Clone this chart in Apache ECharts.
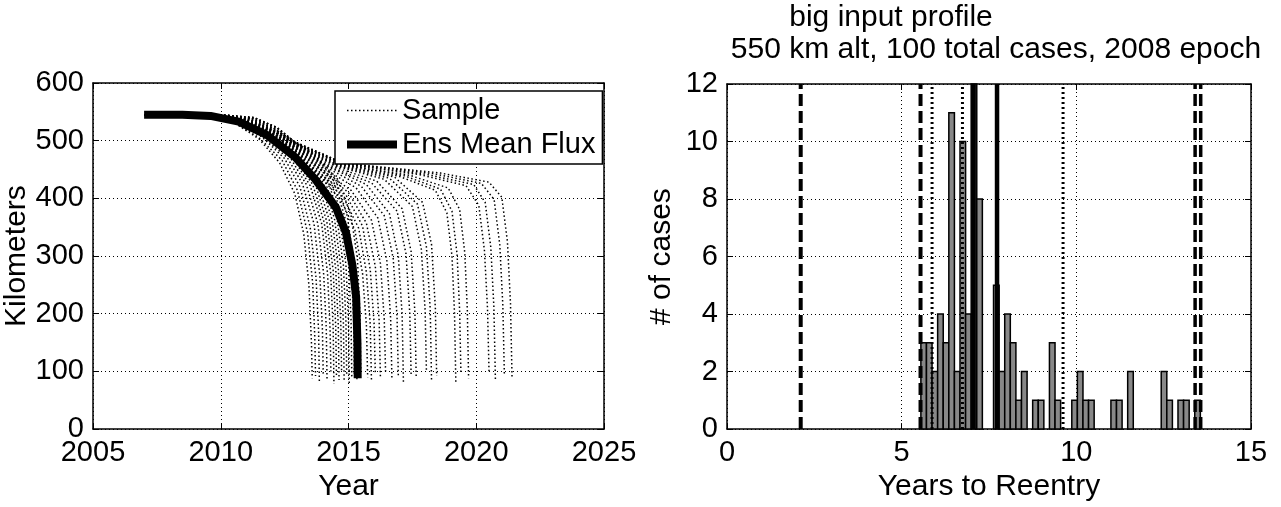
<!DOCTYPE html>
<html>
<head>
<meta charset="utf-8">
<script src="https://cdn.jsdelivr.net/npm/echarts@6/dist/echarts.min.js"></script>
<style>
html,body{margin:0;padding:0;background:#fff;}
#chart{width:1281px;height:507px;}
</style>
</head>
<body>
<div id="chart"></div>
<script>
// ---------- Left panel data ----------
const leftXTicks = [2005, 2010, 2015, 2020, 2025];
const leftYTicks = [0, 100, 200, 300, 400, 500, 600];
const meanFlux = [[2007,545],[2008.5,545],[2009.6,543],[2010.7,533],[2011.8,510],[2012.9,472],[2013.7,433],[2014.5,385],[2014.9,341],[2015.15,285],[2015.3,229],[2015.35,150],[2015.36,88]];
const sampleTracks = [
 [[2007,545],[2009.5,542],[2010.6,529],[2011.5,503],[2012.3,462],[2012.9,408],[2013.25,338],[2013.45,250],[2013.55,150],[2013.58,88]],
 [[2007,545],[2009.5,542],[2010.6,530],[2011.5,505],[2012.4,466],[2013.0,414],[2013.4,340],[2013.6,252],[2013.68,160],[2013.71,92]],
 [[2007,545],[2009.5,542],[2010.6,531],[2011.6,507],[2012.5,469],[2013.1,420],[2013.5,350],[2013.73,262],[2013.83,170],[2013.86,80]],
 [[2007,545],[2009.5,543],[2010.7,531],[2011.6,508],[2012.6,471],[2013.2,425],[2013.65,356],[2013.88,266],[2013.98,172],[2014.01,95]],
 [[2007,545],[2009.5,543],[2010.7,532],[2011.7,509],[2012.7,472],[2013.35,424],[2013.8,356],[2014.03,268],[2014.13,176],[2014.16,85]],
 [[2007,545],[2009.5,543],[2010.7,532],[2011.7,510],[2012.8,472],[2013.5,422],[2013.95,356],[2014.18,270],[2014.28,172],[2014.31,100]],
 [[2007,545],[2009.5,543],[2010.7,533],[2011.8,511],[2012.8,474],[2013.6,424],[2014.05,358],[2014.3,272],[2014.4,175],[2014.43,78]],
 [[2007,545],[2009.6,543],[2010.7,533],[2011.8,511],[2012.9,474],[2013.7,425],[2014.15,360],[2014.4,275],[2014.5,178],[2014.53,90]],
 [[2007,545],[2009.6,543],[2010.8,533],[2011.9,511],[2013.0,474],[2013.8,426],[2014.25,362],[2014.5,278],[2014.6,180],[2014.63,85]],
 [[2007,545],[2009.6,543],[2010.8,534],[2011.9,512],[2013.0,476],[2013.9,428],[2014.35,364],[2014.6,280],[2014.7,182],[2014.73,98]],
 [[2007,545],[2009.6,543],[2010.8,534],[2012.0,512],[2013.1,476],[2014.0,428],[2014.45,365],[2014.7,282],[2014.8,185],[2014.83,82]],
 [[2007,545],[2009.6,544],[2010.8,534],[2012.0,513],[2013.1,477],[2014.1,428],[2014.55,365],[2014.8,284],[2014.9,186],[2014.93,92]],
 [[2007,545],[2009.6,544],[2010.9,534],[2012.1,513],[2013.2,478],[2014.2,430],[2014.65,366],[2014.9,285],[2015.0,188],[2015.03,76]],
 [[2007,545],[2009.7,544],[2010.9,535],[2012.1,514],[2013.3,478],[2014.3,431],[2014.75,368],[2015.0,288],[2015.1,190],[2015.13,88]],
 [[2007,545],[2009.7,544],[2010.9,535],[2012.2,514],[2013.4,478],[2014.4,432],[2014.85,369],[2015.1,290],[2015.2,192],[2015.23,95]],
 [[2007,545],[2009.7,544],[2011.0,535],[2012.2,515],[2013.5,479],[2014.5,433],[2014.95,370],[2015.2,292],[2015.3,194],[2015.33,84]],
 [[2007,545],[2009.7,544],[2011.0,536],[2012.3,515],[2013.6,478],[2014.6,432],[2015.1,370],[2015.35,295],[2015.45,196],[2015.48,100]],
 [[2007,545],[2009.7,544],[2010.9,535],[2011.9,514],[2012.9,478],[2013.9,438],[2014.7,398],[2015.25,345],[2015.55,270],[2015.7,180],[2015.75,90]],
 [[2007,545],[2009.7,544],[2010.9,535],[2011.9,514],[2012.9,480],[2013.9,440],[2014.8,402],[2015.4,348],[2015.7,272],[2015.85,182],[2015.9,82]],
 [[2007,545],[2009.7,544],[2010.9,535],[2011.9,515],[2012.9,482],[2013.9,443],[2014.9,406],[2015.55,352],[2015.85,277],[2016.0,185],[2016.05,96]],
 [[2007,545],[2009.7,544],[2010.9,536],[2011.9,515],[2012.9,484],[2014.0,446],[2015.0,410],[2015.7,357],[2016.05,282],[2016.2,188],[2016.25,88]],
 [[2007,545],[2009.7,544],[2010.9,536],[2011.9,516],[2012.9,486],[2014.0,448],[2015.1,414],[2015.9,362],[2016.25,287],[2016.4,190],[2016.45,100]],
 [[2007,545],[2009.8,544],[2011.0,536],[2011.9,516],[2012.9,487],[2014.1,450],[2015.3,418],[2016.15,366],[2016.5,292],[2016.65,192],[2016.7,85]],
 [[2007,545],[2009.8,544],[2011.0,536],[2011.9,517],[2012.9,488],[2014.2,452],[2015.5,421],[2016.4,370],[2016.75,296],[2016.9,195],[2016.95,92]],
 [[2007,545],[2009.8,544],[2011.0,537],[2011.9,517],[2012.9,489],[2014.3,453],[2015.7,424],[2016.6,374],[2016.95,300],[2017.1,198],[2017.15,80]],
 [[2007,545],[2009.8,544],[2011.0,537],[2012.0,518],[2012.9,490],[2014.3,454],[2015.9,427],[2016.9,378],[2017.25,304],[2017.4,200],[2017.45,95]],
 [[2007,545],[2009.8,544],[2011.1,537],[2012.0,518],[2012.9,491],[2014.4,455],[2016.1,430],[2017.1,382],[2017.45,308],[2017.6,202],[2017.65,88]],
 [[2007,545],[2009.8,544],[2011.1,537],[2012.0,519],[2012.9,492],[2014.5,456],[2016.4,433],[2017.5,386],[2017.85,312],[2018.0,205],[2018.05,100]],
 [[2007,545],[2009.9,544],[2011.1,538],[2012.0,519],[2012.9,493],[2014.5,457],[2016.6,435],[2017.7,390],[2018.05,316],[2018.2,207],[2018.25,84]],
 [[2007,545],[2009.9,544],[2011.1,538],[2012.1,520],[2012.9,494],[2014.6,457],[2016.8,437],[2017.9,393],[2018.25,320],[2018.4,210],[2018.45,92]],
 [[2007,545],[2009.9,544],[2011.2,538],[2012.1,520],[2012.9,495],[2014.6,458],[2017.0,438],[2018.4,414],[2018.85,375],[2019.05,300],[2019.15,200],[2019.2,82]],
 [[2007,545],[2009.9,544],[2011.2,539],[2012.1,521],[2012.9,496],[2014.7,459],[2017.2,439],[2018.6,416],[2019.05,378],[2019.25,303],[2019.35,205],[2019.4,96]],
 [[2007,545],[2009.9,545],[2011.2,539],[2012.1,521],[2012.9,496],[2014.7,459],[2017.4,440],[2018.9,418],[2019.35,381],[2019.55,306],[2019.65,208],[2019.7,88]],
 [[2007,545],[2010.0,545],[2011.3,539],[2012.2,522],[2012.9,497],[2014.8,460],[2017.8,441],[2019.6,422],[2020.1,388],[2020.32,310],[2020.44,210],[2020.5,100]],
 [[2007,545],[2010.0,545],[2011.3,540],[2012.2,522],[2012.9,497],[2014.8,460],[2018.0,442],[2019.9,424],[2020.35,393],[2020.57,315],[2020.69,212],[2020.75,85]],
 [[2007,545],[2010.0,545],[2011.3,540],[2012.2,523],[2012.9,498],[2014.8,461],[2018.3,443],[2020.2,426],[2020.7,398],[2020.92,320],[2021.04,215],[2021.1,95]],
 [[2007,545],[2010.0,545],[2011.3,540],[2012.2,523],[2012.9,498],[2014.8,461],[2018.6,444],[2020.5,428],[2021.0,402],[2021.22,325],[2021.34,218],[2021.4,90]]
];

// ---------- Right panel data ----------
const rightXTicks = [0, 5, 10, 15];
const rightYTicks = [0, 2, 4, 6, 8, 10, 12];
const binLeft  = [5.55,5.71,5.87,6.03,6.19,6.35,6.51,6.67,6.83,6.99,7.15,7.63,7.79,7.95,8.11,8.27,8.43,8.75,8.91,9.23,9.39,9.87,10.03,10.19,10.35,10.99,11.15,11.47,12.43,12.59,12.91,13.07,13.39];
const binCount = [3,3,2,4,3,11,2,10,4,12,8,5,2,4,3,1,2,1,1,3,1,1,2,1,1,1,1,2,2,1,1,1,1];
const binWidth = 0.16;
const dashedLines = [2.11, 5.54];
const dottedLines = [5.87, 6.74, 9.62];
const solidLines = [7.06, 7.73];
const doubleDashedLines = [13.40, 13.56];

const titleLine1 = 'big input profile';
const titleLine2 = '550 km alt, 100 total cases, 2008 epoch';

// ---------- Build ----------
const FONT = "'Liberation Sans', Arial, Helvetica, sans-serif";
const FS = 29;
const FN = 30;
const chart = echarts.init(document.getElementById('chart'), null, {renderer: 'canvas'});

function valueAxis(opts) {
  return Object.assign({
    type: 'value',
    axisLine: {show: true, onZero: false, lineStyle: {color: '#000', width: 1.5}},
    axisTick: {show: true, inside: true, length: 6, lineStyle: {color: '#000', width: 1}},
    axisLabel: {show: true, color: '#000', fontSize: FS, fontFamily: FONT, margin: 9, showMinLabel: true, showMaxLabel: true,
      formatter: function (v) { return String(v); }},
    splitLine: {show: true, lineStyle: {color: '#000', width: 1, type: [1, 3]}},
    nameTextStyle: {color: '#000', fontSize: FN, fontFamily: FONT},
    nameLocation: 'middle'
  }, opts);
}
function mirrorAxis(opts) {
  return Object.assign({
    type: 'value',
    axisLine: {show: true, onZero: false, lineStyle: {color: '#000', width: 1.5}},
    axisTick: {show: true, inside: true, length: 6, lineStyle: {color: '#000', width: 1}},
    axisLabel: {show: false},
    splitLine: {show: false}
  }, opts);
}

const series = [];
sampleTracks.forEach(function (tr) {
  series.push({
    name: 'Sample', type: 'line', xAxisIndex: 0, yAxisIndex: 0,
    data: tr, symbol: 'none', showSymbol: false, silent: true, z: 2,
    itemStyle: {color: '#000'},
    lineStyle: {color: '#000', width: 1.5, type: [1.5, 2.5]}
  });
});
series.push({
  name: 'Ens Mean Flux', type: 'line', xAxisIndex: 0, yAxisIndex: 0,
  data: meanFlux, symbol: 'none', showSymbol: false, silent: true, z: 3,
  itemStyle: {color: '#000'},
  lineStyle: {color: '#000', width: 8, cap: 'butt', join: 'round'}
});

// histogram bars
series.push({
  type: 'custom', xAxisIndex: 2, yAxisIndex: 2, silent: true, z: 2,
  data: binLeft.map(function (x, i) { return [x, x + binWidth, binCount[i]]; }),
  encode: {x: [0, 1], y: 2},
  renderItem: function (params, api) {
    const p0 = api.coord([api.value(0), 0]);
    const p1 = api.coord([api.value(1), api.value(2)]);
    return {
      type: 'rect',
      shape: {x: p0[0], y: p1[1], width: p1[0] - p0[0], height: p0[1] - p1[1]},
      style: {fill: '#888', stroke: '#000', lineWidth: 1.5}
    };
  }
});

function vline(x, style) {
  series.push({
    type: 'line', xAxisIndex: 2, yAxisIndex: 2, silent: true, z: 4,
    data: [[x, 0], [x, 12]], symbol: 'none', showSymbol: false,
    lineStyle: Object.assign({color: '#000'}, style)
  });
}
dashedLines.forEach(function (x) { vline(x, {width: 4, type: [12, 5]}); });
dottedLines.forEach(function (x) { vline(x, {width: 3, type: [2, 3]}); });
solidLines.forEach(function (x) { vline(x, {width: 4.5, type: 'solid'}); });
doubleDashedLines.forEach(function (x) { vline(x, {width: 3.5, type: [12, 5]}); });

const option = {
  animation: false,
  backgroundColor: '#fff',
  textStyle: {fontFamily: FONT, color: '#000'},
  grid: [
    {left: 93, right: 677, top: 83, bottom: 65, show: false},
    {left: 727, right: 30, top: 84, bottom: 65, show: false}
  ],
  xAxis: [
    valueAxis({gridIndex: 0, position: 'bottom', min: leftXTicks[0], max: leftXTicks[leftXTicks.length - 1], interval: leftXTicks[1] - leftXTicks[0], name: 'Year', nameGap: 38}),
    mirrorAxis({gridIndex: 0, position: 'top', min: leftXTicks[0], max: leftXTicks[leftXTicks.length - 1], interval: leftXTicks[1] - leftXTicks[0]}),
    valueAxis({gridIndex: 1, position: 'bottom', min: rightXTicks[0], max: rightXTicks[rightXTicks.length - 1], interval: rightXTicks[1] - rightXTicks[0], name: 'Years to Reentry', nameGap: 38}),
    mirrorAxis({gridIndex: 1, position: 'top', min: rightXTicks[0], max: rightXTicks[rightXTicks.length - 1], interval: rightXTicks[1] - rightXTicks[0]})
  ],
  yAxis: [
    valueAxis({gridIndex: 0, position: 'left', min: leftYTicks[0], max: leftYTicks[leftYTicks.length - 1], interval: leftYTicks[1] - leftYTicks[0], name: 'Kilometers', nameGap: 44}),
    mirrorAxis({gridIndex: 0, position: 'right', min: leftYTicks[0], max: leftYTicks[leftYTicks.length - 1], interval: leftYTicks[1] - leftYTicks[0]}),
    valueAxis({gridIndex: 1, position: 'left', min: rightYTicks[0], max: rightYTicks[rightYTicks.length - 1], interval: rightYTicks[1] - rightYTicks[0], name: '# of cases', nameGap: 50}),
    mirrorAxis({gridIndex: 1, position: 'right', min: rightYTicks[0], max: rightYTicks[rightYTicks.length - 1], interval: rightYTicks[1] - rightYTicks[0]})
  ],
  legend: {
    show: true, orient: 'vertical', left: 335, top: 91,
    itemWidth: 50, itemHeight: 14, itemGap: 5,
    padding: [5, 7, 5, 8],
    borderColor: '#000', borderWidth: 1.5, backgroundColor: '#fff',
    textStyle: {color: '#000', fontSize: 29, fontFamily: FONT},
    itemStyle: {opacity: 0},
    selectedMode: false,
    data: [
      {name: 'Sample', itemStyle: {opacity: 0}, lineStyle: {width: 1.5, type: [1.5, 2.5], color: '#000'}},
      {name: 'Ens Mean Flux', itemStyle: {opacity: 0}, lineStyle: {width: 8, type: 'solid', color: '#000'}}
    ]
  },
  graphic: [
    {type: 'text', x: 891, y: 18, silent: true, style: {text: titleLine1, fill: '#000', font: FN + 'px ' + FONT, align: 'center', verticalAlign: 'middle'}},
    {type: 'text', x: 996, y: 50, silent: true, style: {text: titleLine2, fill: '#000', font: FN + 'px ' + FONT, align: 'center', verticalAlign: 'middle'}}
  ],
  series: series
};
chart.setOption(option);
</script>
</body>
</html>
